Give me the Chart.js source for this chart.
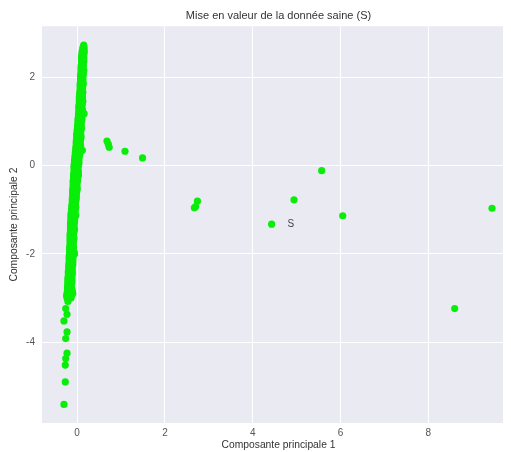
<!DOCTYPE html>
<html><head><meta charset="utf-8">
<script src="https://cdn.jsdelivr.net/npm/chart.js@4"></script>
<style>html,body{margin:0;padding:0;background:#fff}#wrap{width:511px;height:452px}</style>
</head><body><div id="wrap"><canvas id="c" width="511" height="452"></canvas></div>
<script>
const chartTitle = 'Mise en valeur de la donnée saine (S)';
const xAxisTitle = 'Composante principale 1';
const yAxisTitle = 'Composante principale 2';
const xTickValues = [0, 2, 4, 6, 8];
const yTickValues = [-4, -2, 0, 2];
// dense streak, read row by row: [y, x of left edge, x of right edge]
const streakRows = [
  [2.72, 0.15, 0.15], [2.66, 0.13, 0.16], [2.6, 0.12, 0.16], [2.55, 0.11, 0.16],
  [2.5, 0.11, 0.15], [2.45, 0.10, 0.15], [2.4, 0.10, 0.15], [2.35, 0.10, 0.15],
  [2.3, 0.10, 0.14], [2.25, 0.09, 0.14], [2.2, 0.09, 0.14], [2.15, 0.09, 0.15],
  [2.1, 0.09, 0.14], [2.05, 0.08, 0.14], [2.0, 0.08, 0.13], [1.95, 0.08, 0.13],
  [1.9, 0.08, 0.13], [1.85, 0.07, 0.14], [1.8, 0.07, 0.13], [1.75, 0.07, 0.12],
  [1.7, 0.07, 0.12], [1.65, 0.06, 0.13], [1.6, 0.06, 0.12], [1.55, 0.05, 0.12],
  [1.5, 0.05, 0.12], [1.45, 0.05, 0.13], [1.4, 0.05, 0.12], [1.35, 0.04, 0.11],
  [1.3, 0.04, 0.11], [1.25, 0.04, 0.12], [1.2, 0.04, 0.11], [1.15, 0.03, 0.10],
  [1.1, 0.03, 0.10], [1.05, 0.02, 0.11], [1.0, 0.02, 0.10], [0.95, 0.02, 0.09],
  [0.9, 0.01, 0.09], [0.85, 0.01, 0.10], [0.8, 0.00, 0.09], [0.75, 0.00, 0.08],
  [0.7, -0.01, 0.08], [0.65, -0.01, 0.09], [0.6, -0.01, 0.08], [0.55, -0.02, 0.07],
  [0.5, -0.02, 0.07], [0.45, -0.02, 0.08], [0.4, -0.03, 0.07], [0.35, -0.03, 0.06],
  [0.3, -0.04, 0.06], [0.25, -0.04, 0.06], [0.2, -0.05, 0.05], [0.15, -0.05, 0.04],
  [0.1, -0.06, 0.04], [0.05, -0.06, 0.04], [0.0, -0.07, 0.03], [-0.05, -0.07, 0.02],
  [-0.1, -0.07, 0.02], [-0.15, -0.07, 0.03], [-0.2, -0.08, 0.02], [-0.25, -0.08, 0.01],
  [-0.3, -0.08, 0.01], [-0.35, -0.09, 0.01], [-0.4, -0.09, 0.0], [-0.45, -0.09, -0.01],
  [-0.5, -0.09, 0.0], [-0.55, -0.10, 0.0], [-0.6, -0.10, -0.01], [-0.65, -0.10, -0.02],
  [-0.7, -0.10, -0.02], [-0.75, -0.11, -0.02], [-0.8, -0.11, -0.03], [-0.85, -0.11, -0.04],
  [-0.9, -0.12, -0.04], [-0.95, -0.12, -0.03], [-1.0, -0.13, -0.04], [-1.05, -0.13, -0.05],
  [-1.1, -0.14, -0.05], [-1.15, -0.14, -0.04], [-1.2, -0.14, -0.06], [-1.25, -0.14, -0.06],
  [-1.3, -0.15, -0.06], [-1.35, -0.15, -0.07], [-1.4, -0.15, -0.07], [-1.45, -0.15, -0.06],
  [-1.5, -0.15, -0.07], [-1.55, -0.16, -0.08], [-1.6, -0.16, -0.08], [-1.65, -0.16, -0.07],
  [-1.7, -0.16, -0.08], [-1.75, -0.16, -0.09], [-1.8, -0.16, -0.09], [-1.85, -0.17, -0.08],
  [-1.9, -0.17, -0.09], [-1.95, -0.17, -0.07], [-2.0, -0.17, -0.06], [-2.05, -0.18, -0.09],
  [-2.1, -0.18, -0.10], [-2.15, -0.18, -0.10], [-2.2, -0.18, -0.10], [-2.25, -0.19, -0.10],
  [-2.3, -0.19, -0.11], [-2.35, -0.19, -0.12], [-2.4, -0.20, -0.11], [-2.45, -0.20, -0.11],
  [-2.5, -0.20, -0.12], [-2.55, -0.21, -0.12], [-2.6, -0.21, -0.12], [-2.65, -0.21, -0.12],
  [-2.7, -0.21, -0.13], [-2.75, -0.22, -0.14], [-2.8, -0.22, -0.12], [-2.85, -0.22, -0.11],
  [-2.9, -0.23, -0.10], [-2.95, -0.24, -0.13], [-3.0, -0.23, -0.14]
];
const streakBumps = [[0.16, 1.17], [0.12, 0.34], [0.03, -0.23], [-0.03, -1.13], [-0.06, -2.0]];
const lowerTail = [
  [-0.21, -3.08], [-0.26, -3.24], [-0.23, -3.37], [-0.30, -3.52], [-0.23, -3.77],
  [-0.26, -3.92], [-0.23, -4.25], [-0.26, -4.37], [-0.27, -4.52], [-0.27, -4.90], [-0.30, -5.41]
];
const outliers = [
  [0.68, 0.55], [0.71, 0.48], [0.73, 0.41], [1.09, 0.32], [1.49, 0.17],
  [2.74, -0.81], [2.70, -0.93], [2.67, -0.96], [4.43, -1.33], [4.94, -0.78],
  [5.57, -0.12], [6.05, -1.14], [8.60, -3.24], [9.45, -0.97]
];
const annotationText = 'S';
const annotationPos = [4.87, -1.33];

const points = [];
streakRows.forEach(([y, xl, xr]) => { points.push({x: xl, y}); if (xr !== xl) points.push({x: xr, y}); });
streakBumps.concat(lowerTail, outliers).forEach(([x, y]) => points.push({x, y}));

const FONT = "'Liberation Sans', Arial, sans-serif";
const bgPlugin = {
  id: 'bg',
  beforeDraw(chart) {
    const {ctx, chartArea: a} = chart;
    ctx.save(); ctx.fillStyle = '#EAEAF2';
    ctx.fillRect(a.left, a.top, a.right - a.left, a.bottom - a.top); ctx.restore();
  }
};
const textPlugin = {
  id: 'texts',
  afterDatasetsDraw(chart) {
    const {ctx, scales, chartArea: a} = chart;
    ctx.save();
    ctx.font = '10px ' + FONT; ctx.fillStyle = '#444';
    ctx.textAlign = 'center'; ctx.textBaseline = 'middle';
    ctx.fillText(annotationText, scales.x.getPixelForValue(annotationPos[0]), scales.y.getPixelForValue(annotationPos[1]));
    const cx = (a.left + a.right) / 2 + 6;
    ctx.fillStyle = '#333';
    ctx.font = '11px ' + FONT;
    ctx.fillText(chartTitle, cx, 16);
    ctx.font = '10.3px ' + FONT;
    ctx.fillText(xAxisTitle, cx, 445.5);
    ctx.restore();
  }
};

new Chart(document.getElementById('c'), {
  type: 'scatter',
  data: { datasets: [{ data: points, backgroundColor: '#08EE08', borderWidth: 0, pointRadius: 3.6, pointHoverRadius: 3.6 }] },
  options: {
    responsive: false, animation: false, devicePixelRatio: 1,
    layout: { padding: { left: 0, right: 8, top: 26.2, bottom: 0 } },
    plugins: { legend: { display: false }, tooltip: { enabled: false }, title: { display: false } },
    scales: {
      x: {
        type: 'linear', min: -0.8, max: 9.7,
        afterBuildTicks: s => { s.ticks = xTickValues.map(v => ({ value: v })); },
        afterFit: s => { s.height = 29; },
        grid: { color: '#ffffff', lineWidth: 1, drawTicks: false },
        border: { display: false },
        ticks: { color: '#555', font: { family: FONT, size: 10 }, padding: 4 },
        title: { display: false, text: xAxisTitle }
      },
      y: {
        type: 'linear', min: -5.83, max: 3.15,
        afterBuildTicks: s => { s.ticks = yTickValues.map(v => ({ value: v })); },
        afterFit: s => { s.width = 42; },
        grid: { color: '#ffffff', lineWidth: 1, drawTicks: false },
        border: { display: false },
        ticks: { color: '#555', font: { family: FONT, size: 10 }, padding: 7 },
        title: { display: true, text: yAxisTitle, color: '#333', font: { family: FONT, size: 10.3 }, padding: { top: 8, bottom: 0 } }
      }
    }
  },
  plugins: [bgPlugin, textPlugin]
});
</script></body></html>
